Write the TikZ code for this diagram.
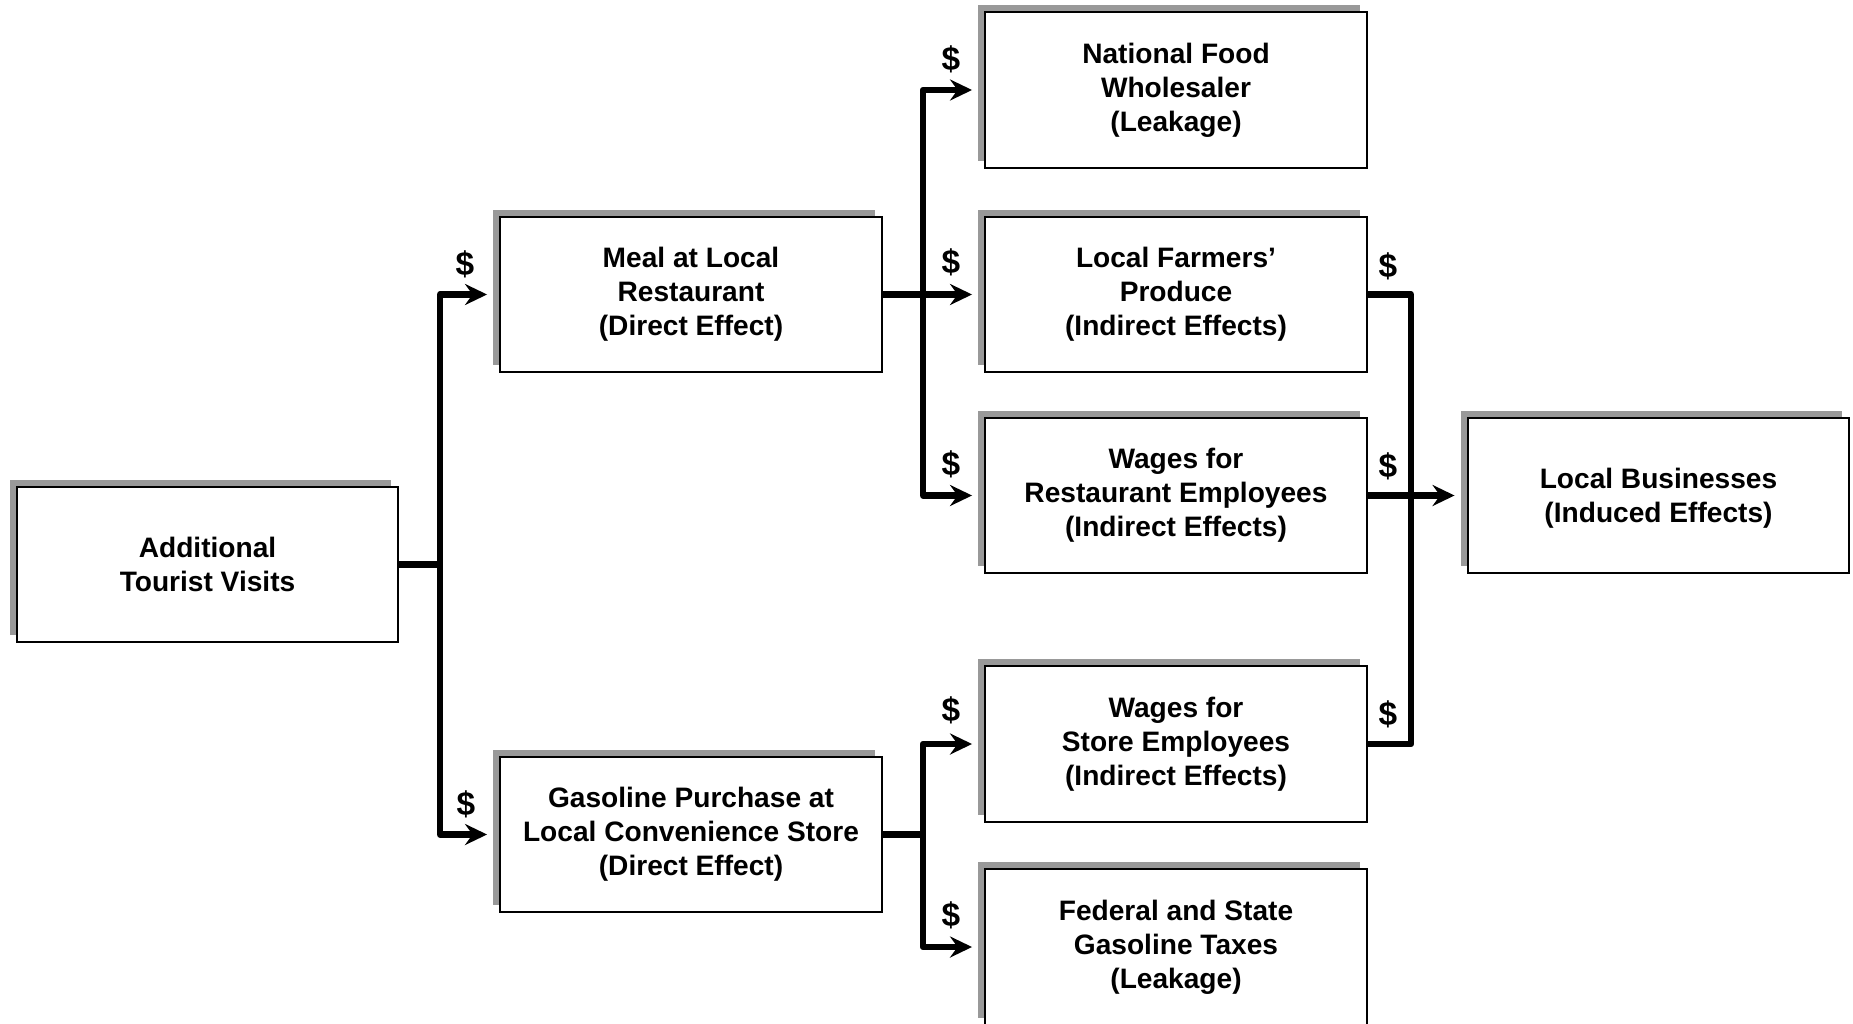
\documentclass[tikz,border=0pt]{standalone}
\usepackage{fontspec}
\setmainfont{Liberation Sans}
\usetikzlibrary{arrows.meta,shadows}
\definecolor{shadowgray}{RGB}{153,153,153}
\tikzset{
  boxnode/.style={draw=black, line width=0.04cm, fill=white,
    minimum width=7.64cm, minimum height=3.12cm, inner sep=0pt, align=center,
    font=\bfseries\fontsize{16}{19.4}\selectfont,
    general shadow={fill=shadowgray, shadow xshift=-0.14cm, shadow yshift=0.14cm}},
  conn/.style={line width=0.13cm, line join=round, line cap=butt},
  arr/.style={conn, -{Stealth[length=0.44cm, width=0.42cm, inset=0.15cm]}, shorten >=0.24cm},
  dollar/.style={font=\bfseries\fontsize{19}{22}\selectfont, inner sep=0pt}
}
\begin{document}
\begin{tikzpicture}[x=0.02cm, y=-0.02cm]
\clip (0,0) rectangle (1853,1024);
\fill[white] (0,0) rectangle (1853,1024);

\node[boxnode] (add) at (207.5,564.5) {Additional\\Tourist Visits};
\node[boxnode] (meal) at (691,294.5) {Meal at Local\\Restaurant\\(Direct Effect)};
\node[boxnode] (gas) at (691,834.5) {Gasoline Purchase at\\Local Convenience Store\\(Direct Effect)};
\node[boxnode] (nat) at (1176,90) {National Food\\Wholesaler\\(Leakage)};
\node[boxnode] (farm) at (1176,294.5) {Local Farmers’\\Produce\\(Indirect Effects)};
\node[boxnode] (wager) at (1176,495.5) {Wages for\\Restaurant Employees\\(Indirect Effects)};
\node[boxnode] (wages) at (1176,744) {Wages for\\Store Employees\\(Indirect Effects)};
\node[boxnode] (fed) at (1176,947) {Federal and State\\Gasoline Taxes\\(Leakage)};
\node[boxnode, text depth=-4pt] (loc) at (1658.5,495.5) {Local Businesses\\(Induced Effects)};

% junction coordinates
\coordinate (jl) at (440,564.5);
\coordinate (jm) at (923,294.5);
\coordinate (jg) at (923,834.5);
\coordinate (jr) at (1411,294.5);
\coordinate (jr2) at (1411,744);

% left trunk
\draw[conn] (add.east) -- (jl);
\draw[arr] (jl) |- (meal.west);
\draw[arr] (jl) |- (gas.west);

% meal branches
\draw[arr] (meal.east) -- (farm.west);
\draw[arr] (jm) |- (nat.west);
\draw[arr] (jm) |- (wager.west);

% gas branches
\draw[conn] (gas.east) -- (jg);
\draw[arr] (jg) |- (wages.west);
\draw[arr] (jg) |- (fed.west);

% right trunk
\draw[conn] (farm.east) -- (jr) -- (jr2) -- (wages.east);
\draw[arr] (wager.east) -- (loc.west);

% dollar labels
\node[dollar] (d1) at (465,264) {\$};
\node[dollar] (d2) at (466,804) {\$};
\node[dollar] (d3) at (951,59) {\$};
\node[dollar] (d4) at (951,262) {\$};
\node[dollar] (d5) at (951,464) {\$};
\node[dollar] (d6) at (951,710) {\$};
\node[dollar] (d7) at (951,915) {\$};
\node[dollar] (d8) at (1388,266) {\$};
\node[dollar] (d9) at (1388,466) {\$};
\node[dollar] (d10) at (1388,714) {\$};
\end{tikzpicture}
\end{document}
